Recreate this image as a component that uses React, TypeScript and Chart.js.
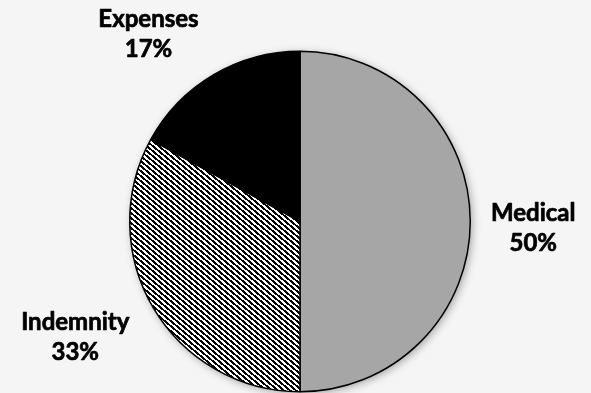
import React, { useEffect, useRef } from "react";
import { Chart, registerables } from "chart.js";

Chart.register(...registerables);

const categories = ["Medical", "Indemnity", "Expenses"];
const values = [50, 33, 17];
const percentLabels = ["50%", "33%", "17%"];

// label anchor offsets relative to pie center, in units of radius (layout only)
const LABEL_OFFSETS: [number, number][] = [
  [1.37, 0.04],
  [-1.32, 0.68],
  [-0.89, -1.1],
];

function makeHatch(): CanvasPattern | string {
  const w = 6, h = 5;
  const c = document.createElement("canvas");
  c.width = w; c.height = h;
  const g = c.getContext("2d");
  if (!g) return "#ffffff";
  const img = g.createImageData(w, h);
  const slope = w / h;
  for (let y = 0; y < h; y++) {
    for (let x = 0; x < w; x++) {
      let d = (x + 0.5) - slope * (y + 0.5);
      d = ((d % w) + w) % w;
      const v = d < 3 ? 0 : 255;
      const i = (y * w + x) * 4;
      img.data[i] = v; img.data[i + 1] = v; img.data[i + 2] = v; img.data[i + 3] = 255;
    }
  }
  g.putImageData(img, 0, 0);
  return g.createPattern(c, "repeat") || "#ffffff";
}

const shadowPlugin = {
  id: "pieShadow",
  beforeDatasetsDraw(chart: any) {
    const meta = chart.getDatasetMeta(0);
    const arc = meta.data[0];
    if (!arc) return;
    const { x, y, outerRadius } = arc.getProps(["x", "y", "outerRadius"], true);
    const ctx = chart.ctx;
    ctx.save();
    ctx.shadowColor = "rgba(0,0,0,0.35)";
    ctx.shadowBlur = 9;
    ctx.shadowOffsetX = 2;
    ctx.shadowOffsetY = 2;
    ctx.fillStyle = "#a6a6a6";
    ctx.beginPath();
    ctx.arc(x, y, outerRadius, 0, Math.PI * 2);
    ctx.fill();
    ctx.restore();
  },
};

const labelPlugin = {
  id: "pieLabels",
  afterDatasetsDraw(chart: any) {
    const meta = chart.getDatasetMeta(0);
    const ctx = chart.ctx;
    ctx.save();
    ctx.font = "bold 24px Lato, 'Open Sans', sans-serif";
    ctx.fillStyle = "#000000";
    ctx.strokeStyle = "#000000";
    ctx.lineWidth = 0.7;
    ctx.lineJoin = "round";
    ctx.textAlign = "center";
    ctx.textBaseline = "middle";
    meta.data.forEach((arc: any, i: number) => {
      const { x, y, outerRadius } = arc.getProps(["x", "y", "outerRadius"], true);
      const [fx, fy] = LABEL_OFFSETS[i];
      const cx = x + fx * outerRadius;
      const cy = y + fy * outerRadius;
      ctx.fillText(categories[i], cx, cy - 15);
      ctx.strokeText(categories[i], cx, cy - 15);
      ctx.fillText(percentLabels[i], cx, cy + 15);
      ctx.strokeText(percentLabels[i], cx, cy + 15);
    });
    ctx.restore();
  },
};

export default function App() {
  const ref = useRef<HTMLCanvasElement | null>(null);
  useEffect(() => {
    if (!ref.current) return;
    const hatch = makeHatch();
    const chart = new Chart(ref.current, {
      type: "pie",
      data: {
        labels: categories,
        datasets: [
          {
            data: values,
            backgroundColor: ["#a6a6a6", hatch as any, "#000000"],
            borderColor: "#000000",
            borderWidth: 1.5,
          },
        ],
      },
      options: {
        animation: false,
        responsive: false,
        maintainAspectRatio: false,
        layout: { padding: { left: 129, right: 120, top: 50, bottom: 0 } },
        plugins: {
          legend: { display: false },
          tooltip: { enabled: false },
        },
      },
      plugins: [shadowPlugin, labelPlugin],
    });
    return () => chart.destroy();
  }, []);
  return (
    <div style={{ position: "absolute", left: 0, top: 0, width: 591, height: 393, background: "#f5f5f5" }}>
      <canvas ref={ref} width={591} height={393} style={{ display: "block" }} />
    </div>
  );
}
